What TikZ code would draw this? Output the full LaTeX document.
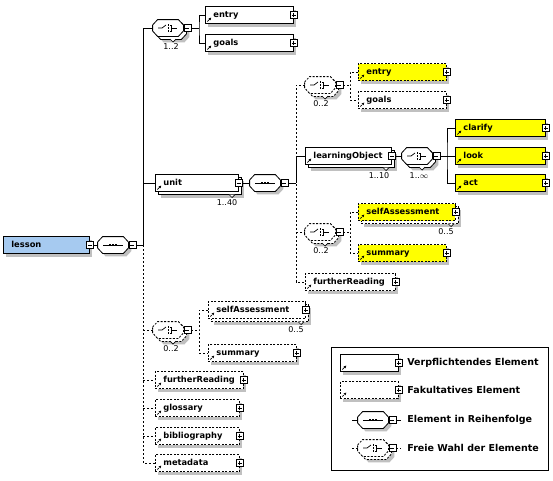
\documentclass[tikz,border=0pt]{standalone}
\usepackage{fontspec}
\setmainfont{DejaVu Sans}
\usetikzlibrary{shadows,arrows.meta}
\definecolor{lessonblue}{RGB}{166,202,240}
\definecolor{elyellow}{RGB}{255,255,0}
\definecolor{shadowgray}{RGB}{192,192,192}
\begin{document}
\begin{tikzpicture}[x=1pt,y=-1pt,line width=0.8pt]
            \tikzset{
                shd/.style={drop shadow={shadow xshift=3pt,shadow yshift=-3pt,fill=shadowgray,opacity=1}},
                stack/.style={drop shadow={shadow xshift=6pt,shadow yshift=-6pt,fill=shadowgray,opacity=1},
                    copy shadow={shadow xshift=3pt,shadow yshift=-3pt,draw,fill=white}},
                opt/.style={dash pattern=on 2pt off 1.5pt},
                optline/.style={dash pattern=on 2pt off 2pt},
                w/.code={\pgfmathsetmacro\boxw{#1-16}\tikzset{text width/.expanded=\boxw pt}},
                elbox/.style={draw, fill=white, anchor=west, minimum height=17pt, inner xsep=8pt, inner ysep=0pt,
                    text height=6.5pt, text depth=2pt, align=left, font=\fontsize{8.3}{10}\selectfont\bfseries, w=#1, shd},
                el/.style={elbox=#1, path picture={\draw[line width=0.7pt,-{Latex[length=2.6pt,width=2.8pt]}]
                    ([shift={(2pt,2pt)}]path picture bounding box.south west) -- ++(4pt,4pt);}},
                pm/.style={draw, fill=white, minimum size=7pt, inner sep=0pt, line width=0.7pt},
                minus/.style={pm, path picture={\draw[line width=0.7pt] ([xshift=1.5pt]path picture bounding box.west) -- ([xshift=-1.5pt]path picture bounding box.east);}},
                plus/.style={pm, path picture={\draw[line width=0.7pt] ([xshift=1.5pt]path picture bounding box.west) -- ([xshift=-1.5pt]path picture bounding box.east)
                    ([yshift=-1.5pt]path picture bounding box.north) -- ([yshift=1.5pt]path picture bounding box.south);}},
                pe/.style={append after command={node[plus] (\tikzlastnode-pm) at (\tikzlastnode.east) {}}},
                me/.style={append after command={node[minus] (\tikzlastnode-pm) at (\tikzlastnode.east) {}}},
                comp/.style={minimum width=30pt, minimum height=16pt, inner sep=0pt},
                mult/.style={font=\fontsize{8}{9}\selectfont, inner sep=0pt},
                legend/.style={anchor=west, inner sep=0pt, font=\fontsize{9.5}{11}\selectfont\bfseries},
            }
            \def\octo#1{([yshift=3pt]#1.west) -- ([xshift=5pt]#1.north west) -- ([xshift=-5pt]#1.north east) -- ([yshift=3pt]#1.east)
                -- ([yshift=-3pt]#1.east) -- ([xshift=-5pt]#1.south east) -- ([xshift=5pt]#1.south west) -- ([yshift=-3pt]#1.west) -- cycle}
            \def\compo#1#2{\fill[shadowgray, transform canvas={shift={(3pt,-3pt)}}] \octo{#1};
                \draw[fill=white, #2] \octo{#1};}
            \def\compostack#1#2{\fill[shadowgray, transform canvas={shift={(6pt,-6pt)}}] \octo{#1};
                \draw[fill=white, #2, transform canvas={shift={(3pt,-3pt)}}] \octo{#1};
                \draw[fill=white, #2] \octo{#1};}
            \def\seqicon#1{\begin{scope}[shift={(#1.center)}]
                \draw (-10pt,0pt) -- (10pt,0pt);
                \foreach \d in {-3,0,3} \fill (\d pt-0.9pt,-0.9pt) rectangle (\d pt+0.9pt,0.9pt);
                \end{scope}}
            \def\choiceicon#1{\begin{scope}[shift={(#1.center)},line width=0.7pt]
                \draw (-10pt,0pt) -- (-6pt,0pt) -- (-2pt,3pt);
                \foreach \d in {-3,0,3} \fill (-0.4pt,\d pt-0.9pt) rectangle (1.4pt,\d pt+0.9pt);
                \draw (2.4pt,3pt) -- (3.8pt,3pt) -- (3.8pt,-3pt) -- (2.4pt,-3pt) (3.8pt,0pt) -- (9pt,0pt);
                \end{scope}}
            \def\notch#1#2{\draw[fill=white,line width=0.7pt] (#1-3,#2) -- (#1,#2+3) -- (#1+3,#2);}
            \path[use as bounding box, fill=white] (0,0) rectangle (553,480);

            % root and first sequence
            \node[elbox=86, fill=lessonblue, me] (lesson) at (3,245) {lesson};
            \node[comp] (seq0) at (113,245) {};
            \compo{seq0}{} \seqicon{seq0}
            \node[minus] (seq0-pm) at ([xshift=4pt]seq0.east) {};
            \coordinate (t0) at (143,245);

            % choice of entry / goals
            \node[comp] (ch1) at (168,28) {};
            \compostack{ch1}{} \choiceicon{ch1}
            \node[minus] (ch1-pm) at ([xshift=4pt]ch1.east) {};
            \notch{173}{39}
            \node[mult] (ch1-m) at (171,47) {1..2};
            \coordinate (b1) at (199,28);
            \node[el=88, pe] (entry1) at (205,15) {entry};
            \node[el=88, pe] (goals1) at (205,43) {goals};

            % unit
            \node[el=83, stack, me] (unit) at (155,183) {unit};
            \notch{232}{194.5}
            \node[mult] (unit-m) at (227,203) {1..40};
            \node[comp] (seq1) at (265,183) {};
            \compo{seq1}{} \seqicon{seq1}
            \node[minus] (seq1-pm) at ([xshift=4pt]seq1.east) {};
            \coordinate (b2) at (296,183);

            \node[comp] (ch2) at (320,85) {};
            \compostack{ch2}{opt} \choiceicon{ch2}
            \node[minus] (ch2-pm) at ([xshift=4pt]ch2.east) {};
            \notch{325}{96}
            \node[mult] (ch2-m) at (321,104) {0..2};
            \coordinate (b3) at (350,85);
            \node[el=88, opt, fill=elyellow, pe] (entry2) at (358,72) {entry};
            \node[el=88, opt, pe] (goals2) at (358,100) {goals};

            \node[el=86, stack, me] (lo) at (305,156) {learningObject};
            \notch{386}{167.5}
            \node[mult] (lo-m) at (379,176) {1..10};
            \node[comp] (ch4) at (417,156) {};
            \compostack{ch4}{} \choiceicon{ch4}
            \node[minus] (ch4-pm) at ([xshift=4pt]ch4.east) {};
            \notch{422}{167}
            \node[mult] (ch4-m) at (419,176) {1..\(\infty\)};
            \coordinate (b4) at (447,156);
            \node[el=90, fill=elyellow, pe] (clarify) at (455,128) {clarify};
            \node[el=90, fill=elyellow, pe] (look) at (455,156) {look};
            \node[el=90, fill=elyellow, pe] (act) at (455,183) {act};

            \node[comp] (ch5) at (320,232) {};
            \compostack{ch5}{opt} \choiceicon{ch5}
            \node[minus] (ch5-pm) at ([xshift=4pt]ch5.east) {};
            \notch{325}{243}
            \node[mult] (ch5-m) at (321,251) {0..2};
            \coordinate (b5) at (350,232);
            \node[el=97, opt, stack, fill=elyellow, pe] (self2) at (358,212) {selfAssessment};
            \notch{451}{223.5}
            \node[mult] (self2-m) at (446,232) {0..5};
            \node[el=88, opt, fill=elyellow, pe] (summary2) at (358,253) {summary};
            \node[el=90, opt, pe] (further2) at (305,282) {furtherReading};

            % optional part of lesson
            \node[comp] (ch3) at (168,330) {};
            \compostack{ch3}{opt} \choiceicon{ch3}
            \node[minus] (ch3-pm) at ([xshift=4pt]ch3.east) {};
            \notch{173}{341}
            \node[mult] (ch3-m) at (171,349) {0..2};
            \coordinate (b6) at (199,330);
            \node[el=97, opt, stack, pe] (self1) at (208,310) {selfAssessment};
            \notch{301}{321.5}
            \node[mult] (self1-m) at (296,330) {0..5};
            \node[el=88, opt, pe] (summary1) at (208,353) {summary};
            \node[el=88, opt, pe] (further1) at (155,380) {furtherReading};
            \node[el=84, opt, pe] (glossary) at (155,408) {glossary};
            \node[el=84, opt, pe] (biblio) at (155,436) {bibliography};
            \node[el=84, opt, pe] (meta) at (155,463) {metadata};

            % connectors
            \draw (lesson-pm.east) -- (seq0.west);
            \draw (seq0-pm.east) -- (t0);
            \draw (t0) -- (t0 |- ch1) -- (ch1.west);
            \draw (t0 |- unit.west) -- (unit.west);
            \draw[optline] (t0) -- (t0 |- meta.west) -- (meta.west);
            \draw[optline] (t0 |- ch3) -- (ch3.west);
            \draw[optline] (t0 |- further1.west) -- (further1.west);
            \draw[optline] (t0 |- glossary.west) -- (glossary.west);
            \draw[optline] (t0 |- biblio.west) -- (biblio.west);

            \draw (ch1-pm.east) -- (b1);
            \draw (entry1.west) -| (b1) |- (goals1.west);

            \draw (unit-pm.east) -- (seq1.west);
            \draw (seq1-pm.east) -- (b2);
            \draw[optline] (ch2.west) -| (b2) |- (further2.west);
            \draw[optline] (b2 |- ch5) -- (ch5.west);
            \draw (lo.west) -| (b2);

            \draw[optline] (ch2-pm.east) -- (b3);
            \draw[optline] (entry2.west) -| (b3) |- (goals2.west);

            \draw (lo-pm.east) -- (ch4.west);
            \draw (ch4-pm.east) -- (b4);
            \draw (clarify.west) -| (b4) |- (act.west);
            \draw (b4) -- (look.west);

            \draw[optline] (ch5-pm.east) -- (b5);
            \draw[optline] (self2.west) -| (b5) |- (summary2.west);

            \draw[optline] (ch3-pm.east) -- (b6);
            \draw[optline] (self1.west) -| (b6) |- (summary1.west);

            % legend
            \draw[line width=0.7pt] (331,347) rectangle (548,470);
            \node[el=58, pe] (lg1) at (340,363) {};
            \node[legend] (lg1-t) at (407,363) {Verpflichtendes Element};
            \node[el=58, opt, pe] (lg2) at (340,390) {};
            \node[legend] (lg2-t) at (407,390) {Fakultatives Element};
            \node[comp] (lg3) at (373,420) {};
            \compo{lg3}{} \seqicon{lg3}
            \node[minus] (lg3-pm) at ([xshift=4pt]lg3.east) {};
            \coordinate (lg3-a) at (352,420);
            \coordinate (lg3-b) at (401,420);
            \draw (lg3-a) -- (lg3.west);
            \draw (lg3-pm.east) -- (lg3-b);
            \node[legend] (lg3-t) at (407,420) {Element in Reihenfolge};
            \node[comp] (lg4) at (373,448) {};
            \compostack{lg4}{opt} \choiceicon{lg4}
            \node[minus] (lg4-pm) at ([xshift=4pt]lg4.east) {};
            \coordinate (lg4-a) at (352,448);
            \coordinate (lg4-b) at (401,448);
            \draw[optline] (lg4-a) -- (lg4.west);
            \draw[optline] (lg4-pm.east) -- (lg4-b);
            \node[legend] (lg4-t) at (407,448) {Freie Wahl der Elemente};
        \end{tikzpicture}
\end{document}
